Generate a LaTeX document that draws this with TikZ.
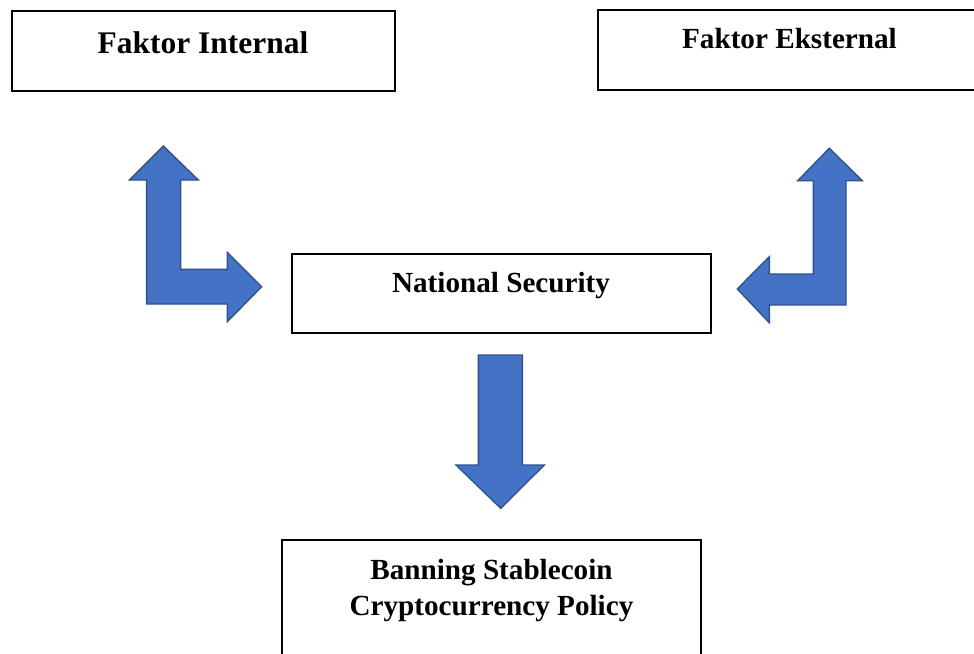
\documentclass[tikz,border=0pt]{standalone}
\usepackage{fontspec}
\setmainfont{Liberation Serif}
\usepackage{tikz}
\definecolor{arrowfill}{HTML}{4472C4}
\definecolor{arrowline}{HTML}{2F528F}

\tikzset{
  box/.style = {draw, line width = 0.85pt, inner sep = 0pt},
  lbl/.style = {anchor = base, inner sep = 0pt, font = \fontsize{16.6}{20}\selectfont\bfseries, align = center},
  blockarrow/.style = {fill = arrowfill, draw = arrowline, line width = 0.8pt, line join = miter}
}

\begin{document}
\begin{tikzpicture}[x = 0.02cm, y = -0.02cm]
\useasboundingbox (0,0) rectangle (974,653);

% boxes
\draw (203.5,51) node[box, minimum width = 7.66cm, minimum height = 1.6cm](fi){}
    (788,50) node[box, minimum width = 7.6cm, minimum height = 1.6cm](fe){}
    (501.5,293.5) node[box, minimum width = 8.38cm, minimum height = 1.58cm](ns){}
    (491.5,600) node[box, minimum width = 8.38cm, minimum height = 2.4cm](bs){};

% texts (base = last line)
\node[lbl, font = \fontsize{17.9}{20}\selectfont\bfseries] (fit) at (203,53) {Faktor Internal};
\node[lbl] (fet) at (789.5,48.5) {Faktor Eksternal};
\node[lbl] (nst) at (501,292) {National Security};
\node[lbl] (bst) at (491.5,615) {Banning Stablecoin\\Cryptocurrency Policy};

% left L arrow
\draw[blockarrow] (163.3,146) -- (198.3,180) -- (180.7,180) -- (180.7,269.3) -- (227.3,269.3)
    -- (227.3,252.3) -- (261.7,286.7) -- (227.3,321.7) -- (227.3,304) -- (146.7,304)
    -- (146.7,180) -- (129.3,180) -- cycle;

% right L arrow
\draw[blockarrow] (829.3,148.3) -- (862.3,180.7) -- (846,180.7) -- (846,305) -- (769.3,305)
    -- (769.3,322.7) -- (737.3,289) -- (769.3,256.7) -- (769.3,274) -- (813.3,274)
    -- (813.3,180.7) -- (797.7,180.7) -- cycle;

% down arrow
\draw[blockarrow] (478.3,355) -- (522.3,355) -- (522.3,465) -- (544.3,465) -- (500.7,508.3)
    -- (456,465) -- (478.3,465) -- cycle;
\end{tikzpicture}
\end{document}
